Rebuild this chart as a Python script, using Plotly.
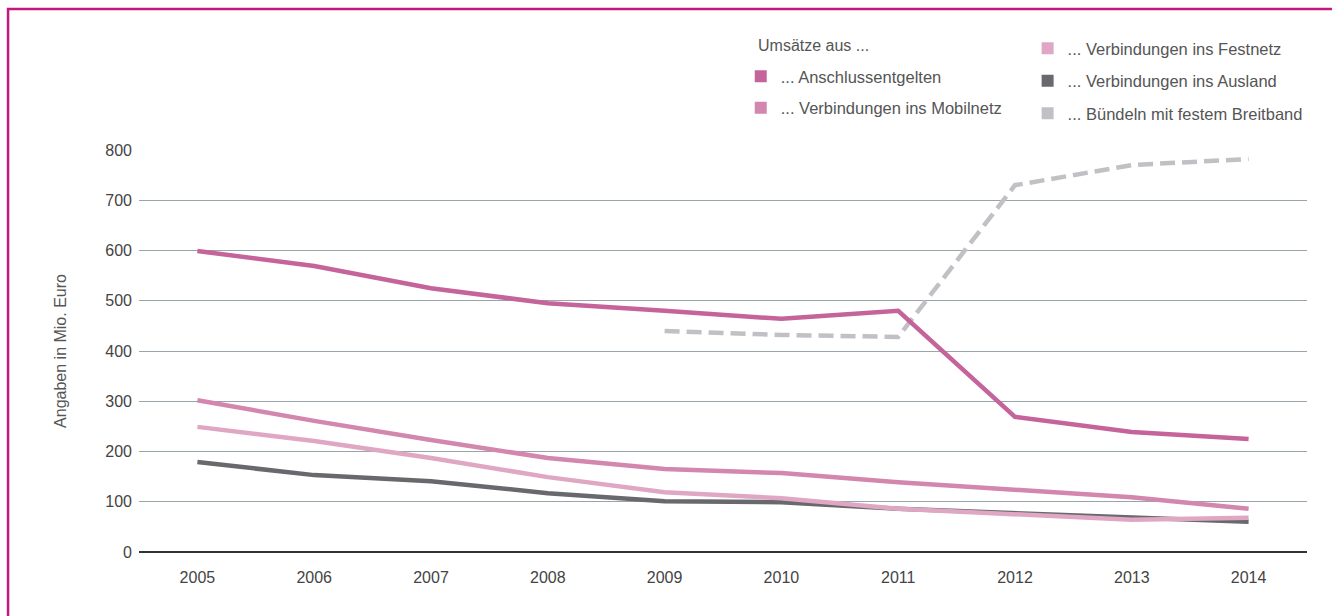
import plotly.graph_objects as go

# Daten
jahre = ["2005", "2006", "2007", "2008", "2009", "2010", "2011", "2012", "2013", "2014"]
anschluss = [599, 569, 525, 495, 480, 464, 480, 269, 239, 225]
mobilnetz = [302, 261, 223, 187, 165, 157, 139, 125, 109, 86]
festnetz = [249, 221, 187, 149, 119, 107, 86, 74, 64, 68]
ausland = [179, 153, 141, 117, 101, 99, 86, 78, 68, 60]
breitband = [None, None, None, None, 440, 432, 428, 730, 770, 782]

W, H = 1332, 616
L, R, T, B = 139, 24.5, 150, 64
pw, ph = W - L - R, H - T - B

FONT = "Liberation Sans, Arial, sans-serif"

series = [
    ("... Anschlussentgelten", anschluss, "#c4649a", "solid", "legend"),
    ("... Verbindungen ins Mobilnetz", mobilnetz, "#d386ae", "solid", "legend"),
    ("... Verbindungen ins Festnetz", festnetz, "#dfa7c4", "solid", "legend2"),
    ("... Verbindungen ins Ausland", ausland, "#68686d", "solid", "legend2"),
    ("... Bündeln mit festem Breitband", breitband, "#c1c1c5", "15px,7px", "legend2"),
]

fig = go.Figure()

# Linien (Breitband hinten, Anschluss vorne)
for i in [4, 3, 2, 1, 0]:
    name, vals, color, dash, lg = series[i]
    fig.add_trace(go.Scatter(
        x=jahre, y=vals, mode="lines", name=name,
        line=dict(color=color, width=4.5, dash=dash),
        showlegend=False, cliponaxis=False,
    ))

# Legendeneinträge als Quadrate
for i, (name, vals, color, dash, lg) in enumerate(series):
    fig.add_trace(go.Scatter(
        x=[None], y=[None], mode="markers", name=name,
        marker=dict(symbol="square", size=12, color=color),
        legend=lg, legendgroup=f"g{i}", showlegend=True,
    ))


def px_x(x):
    return (x - L) / pw


def px_y(y):
    return (H - B - y) / ph


fig.add_annotation(
    text="Umsätze aus ...", xref="paper", yref="paper",
    x=px_x(756), y=px_y(45), xanchor="left", yanchor="middle",
    showarrow=False, font=dict(family=FONT, size=16, color="#555555"),
)

# Rahmen
fig.add_shape(
    type="rect", xref="paper", yref="paper",
    x0=px_x(8), x1=px_x(W + 20), y0=px_y(H + 20), y1=px_y(9),
    line=dict(color="#c2197c", width=2.5), fillcolor="rgba(0,0,0,0)",
    layer="above",
)

fig.update_layout(
    width=W, height=H,
    margin=dict(l=L, r=R, t=T, b=B, autoexpand=False),
    paper_bgcolor="white", plot_bgcolor="white",
    font=dict(family=FONT, size=16, color="#444444"),
    legend=dict(
        x=px_x(741), y=px_y(59), xanchor="left", yanchor="top",
        font=dict(family=FONT, size=16.5, color="#555555"),
        tracegroupgap=7, bgcolor="rgba(0,0,0,0)",
    ),
    legend2=dict(
        x=px_x(1028), y=px_y(31), xanchor="left", yanchor="top",
        font=dict(family=FONT, size=16.5, color="#555555"),
        tracegroupgap=8, bgcolor="rgba(0,0,0,0)",
    ),
    xaxis=dict(
        type="category", range=[-0.5, 9.5], showgrid=False,
        showline=False, ticks="", ticklabelstandoff=14,
        tickfont=dict(size=16, color="#444444"),
        fixedrange=True,
    ),
    yaxis=dict(
        range=[0, 800], tickvals=[0, 100, 200, 300, 400, 500, 600, 700, 800],
        showgrid=True, gridcolor="#9aa4ab", gridwidth=1,
        zeroline=True, zerolinecolor="#333333", zerolinewidth=1.5,
        showline=False, ticks="", ticklabelstandoff=6,
        tickfont=dict(size=16, color="#444444"),
        title=dict(text="Angaben in Mio. Euro", standoff=34,
                   font=dict(size=16, color="#555555")),
        fixedrange=True,
    ),
)

fig.write_html("out.html", config={"displayModeBar": False},
               post_script="document.body.style.margin='0';")
